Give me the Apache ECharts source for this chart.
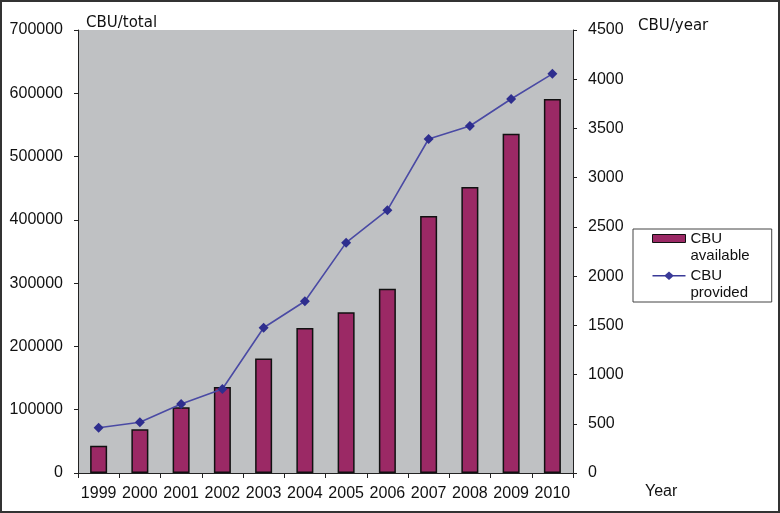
<!DOCTYPE html>
<html>
<head>
<meta charset="utf-8">
<script src="https://cdn.jsdelivr.net/npm/echarts@6/dist/echarts.min.js"></script>
<style>
html,body{margin:0;padding:0;background:#fff;}
#c{position:absolute;left:0;top:0;width:780px;height:513px;}
#frame{position:absolute;left:0;top:0;width:780px;height:513px;box-sizing:border-box;border:2px solid #333;pointer-events:none;}
</style>
</head>
<body>
<div id="c"></div>
<div id="frame"></div>
<script>
const years = ['1999','2000','2001','2002','2003','2004','2005','2006','2007','2008','2009','2010'];
const cbuAvailable = [43000, 69000, 104000, 136000, 181000, 229000, 254000, 291000, 406000, 452000, 536000, 591000];
const cbuProvided = [460, 515, 700, 853, 1475, 1745, 2340, 2670, 3393, 3525, 3799, 4055];
const leftAxis = {min: 0, max: 700000, interval: 100000};
const rightAxis = {min: 0, max: 4500, interval: 500};

const chart = echarts.init(document.getElementById('c'), null, {renderer: 'canvas'});
const labelFont = {fontFamily: 'Liberation Sans, Arial, sans-serif', fontSize: 16, color: '#111'};
const nameFont = {fontFamily: 'DejaVu Sans, Verdana, sans-serif', fontSize: 15, color: '#111'};
const plain = v => String(v);

chart.setOption({
  animation: false,
  backgroundColor: '#fff',
  grid: {left: 78, right: 207, top: 30, bottom: 40, show: true, backgroundColor: '#bfc1c3', borderWidth: 0},
  legend: {
    left: 633, top: 229, orient: 'vertical',
    padding: [1, 22, 1, 19],
    itemGap: 2, itemWidth: 33, itemHeight: 34,
    borderColor: '#444', borderWidth: 1, backgroundColor: '#fff',
    textStyle: {fontFamily: 'Liberation Sans, Arial, sans-serif', fontSize: 15, lineHeight: 17, color: '#111'},
    data: [
      {name: 'CBU\navailable', icon: 'path://M0,0M33,34M0,4H33V12H0Z', itemStyle: {color: '#9b2965', borderColor: '#111', borderWidth: 1}},
      {name: 'CBU\nprovided', icon: 'path://M0,0M33,34M0,8H12.5L16.5,4.5L20.5,8H33V9.5H20.5L16.5,13L12.5,9.5H0Z', itemStyle: {color: '#3a3a98', borderWidth: 0}}
    ]
  },
  xAxis: {
    type: 'category', data: years,
    name: 'Year', nameLocation: 'end', nameGap: 72,
    nameTextStyle: {fontFamily: 'Liberation Sans, Arial, sans-serif', fontSize: 16, color: '#111', align: 'left', verticalAlign: 'top', padding: [11, 0, 0, 0]},
    axisLine: {lineStyle: {color: '#222', width: 1}},
    axisTick: {show: true, interval: 0, length: 5, lineStyle: {color: '#222'}},
    axisLabel: Object.assign({interval: 0, margin: 13}, labelFont)
  },
  yAxis: [
    {
      type: 'value', position: 'left', min: leftAxis.min, max: leftAxis.max, interval: leftAxis.interval,
      name: 'CBU/total', nameLocation: 'end', nameGap: -1,
      nameTextStyle: Object.assign({align: 'left', padding: [0, 0, 0, 8]}, nameFont),
      axisLine: {show: true, lineStyle: {color: '#222', width: 1}},
      axisTick: {show: true, length: 4, lineStyle: {color: '#222'}},
      splitLine: {show: false},
      axisLabel: Object.assign({margin: 15, formatter: plain}, labelFont)
    },
    {
      type: 'value', position: 'right', min: rightAxis.min, max: rightAxis.max, interval: rightAxis.interval,
      name: 'CBU/year', nameLocation: 'end', nameGap: -4,
      nameTextStyle: Object.assign({align: 'left', padding: [0, 0, 0, 65]}, nameFont),
      axisLine: {show: true, lineStyle: {color: '#222', width: 1}},
      axisTick: {show: true, length: 4, lineStyle: {color: '#222'}},
      splitLine: {show: false},
      axisLabel: Object.assign({margin: 15, formatter: plain}, labelFont)
    }
  ],
  series: [
    {
      name: 'CBU\navailable', type: 'bar', yAxisIndex: 0, data: cbuAvailable, barWidth: 17,
      itemStyle: {color: '#9b2965', borderColor: '#111', borderWidth: 1.5}
    },
    {
      name: 'CBU\nprovided', type: 'line', yAxisIndex: 1, data: cbuProvided,
      symbol: 'diamond', symbolSize: 10,
      lineStyle: {color: '#4a4aa4', width: 1.6},
      itemStyle: {color: '#2e2e8e'}
    }
  ]
});
</script>
</body>
</html>
